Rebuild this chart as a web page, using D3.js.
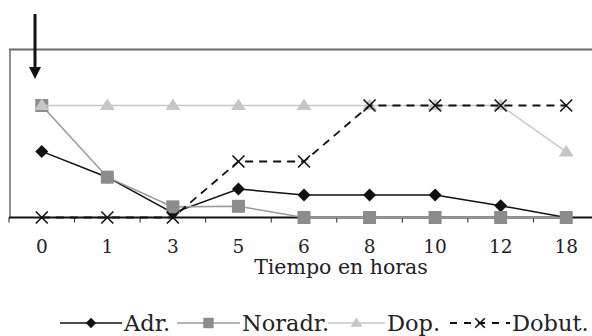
<!DOCTYPE html>
<html><head><meta charset="utf-8">
<script src="https://cdn.jsdelivr.net/npm/d3@7"></script>
<style>body{margin:0;background:#fff}svg{display:block}</style></head>
<body>
<svg id="c" width="592" height="336"></svg>
<script>
const categories = ["0","1","3","5","6","8","10","12","18"];
const adr    = [11.8, 7.2, 0.8, 5.1, 4, 4, 4, 2.1, 0];
const noradr = [20, 7.2, 1.9, 2, 0, 0, 0, 0, 0];
const dop    = [20, 20, 20, 20, 20, 20, 20, 20, 11.7];
const dobut  = [0, 0, 0, 10, 10, 20, 20, 20, 20];
const seriesNames = ["Adr.", "Noradr.", "Dop.", "Dobut."];
const xTitle = "Tiempo en horas";
const yMax = 30;

const svg = d3.select("#c");
const FONT = "DejaVu Serif";
const x = d3.scaleBand().domain(categories).range([9, 599]).paddingInner(0).paddingOuter(0);
const cx = c => x(c) + x.bandwidth() / 2;
const y = d3.scaleLinear().domain([0, yMax]).range([217.5, 49.5]);

// frame (top + left)
svg.append("line").attr("x1", 9).attr("x2", 592).attr("y1", y(yMax)).attr("y2", y(yMax))
  .attr("stroke", "#6b6b6b").attr("stroke-width", 2);
svg.append("line").attr("x1", 10).attr("x2", 10).attr("y1", y(yMax)).attr("y2", y(0))
  .attr("stroke", "#6b6b6b").attr("stroke-width", 1.5);

// x axis
const axisG = svg.append("g").attr("transform", `translate(0,${y(0)})`);
axisG.append("line").attr("x1", 9).attr("x2", 592).attr("stroke", "#111").attr("stroke-width", 2);
axisG.selectAll(".tk").data(categories).enter().append("line")
  .attr("x1", d => x(d)).attr("x2", d => x(d)).attr("y1", 0).attr("y2", 5)
  .attr("stroke", "#222").attr("stroke-width", 1);
svg.selectAll(".tl").data(categories).enter().append("text")
  .attr("x", d => cx(d)).attr("y", 253).attr("text-anchor", "middle")
  .attr("font-family", FONT).attr("font-size", 18.5).attr("fill", "#222").text(d => d);
svg.append("text").attr("x", 341).attr("y", 274)
  .attr("text-anchor", "middle").attr("font-family", FONT).attr("font-size", 20.5)
  .attr("fill", "#222").text(xTitle);

// markers
function marker(g, type, px, py, scale = 1) {
  if (type === "diamond") {
    const s = 6.5 * scale;
    g.append("path").attr("d", `M${px},${py - s}L${px + s},${py}L${px},${py + s}L${px - s},${py}Z`).attr("fill", "#111");
  } else if (type === "square") {
    const s = 6.5 * scale;
    g.append("rect").attr("x", px - s).attr("y", py - s).attr("width", 2 * s).attr("height", 2 * s).attr("fill", "#8c8c8c");
  } else if (type === "triangle") {
    const w = 7.5 * scale, h = 11.5 * scale;
    g.append("path").attr("d", `M${px},${py - h * 0.6}L${px + w},${py + h * 0.4}L${px - w},${py + h * 0.4}Z`).attr("fill", "#c6c6c6");
  } else if (type === "x") {
    const s = 6 * scale;
    g.append("path").attr("d", `M${px - s},${py - s}L${px + s},${py + s}M${px - s},${py + s}L${px + s},${py - s}`)
      .attr("stroke", "#111").attr("stroke-width", 1.6).attr("fill", "none");
  }
}

const series = [
  { name: seriesNames[0], values: adr, color: "#111", width: 1.5, dash: null, mk: "diamond" },
  { name: seriesNames[1], values: noradr, color: "#9a9a9a", width: 1.6, dash: null, mk: "square" },
  { name: seriesNames[2], values: dop, color: "#c8c8c8", width: 1.5, dash: null, mk: "triangle" },
  { name: seriesNames[3], values: dobut, color: "#111", width: 1.8, dash: "8,6", mk: "x" }
];
const line = d3.line().x((d, i) => cx(categories[i])).y(d => y(d));
series.forEach(s => {
  const g = svg.append("g");
  g.append("path").attr("d", line(s.values)).attr("fill", "none").attr("stroke", s.color)
    .attr("stroke-width", s.width).attr("stroke-dasharray", s.dash);
  s.values.forEach((v, i) => marker(g, s.mk, cx(categories[i]), y(v)));
});

// arrow
svg.append("line").attr("x1", 35).attr("x2", 35).attr("y1", 14).attr("y2", 70)
  .attr("stroke", "#111").attr("stroke-width", 3);
svg.append("path").attr("d", "M29,67L41,67L35,79Z").attr("fill", "#111");

// legend
const legX = [[60, 122], [177, 240], [328, 385], [450, 510]];
const ly = 323;
series.forEach((s, i) => {
  const g = svg.append("g");
  const [a, b] = legX[i];
  g.append("line").attr("x1", a).attr("x2", b).attr("y1", ly).attr("y2", ly)
    .attr("stroke", s.color).attr("stroke-width", s.width).attr("stroke-dasharray", s.dash ? "7,7" : null);
  marker(g, s.mk, (a + b) / 2, ly, 0.8);
  g.append("text").attr("x", b + 2).attr("y", 331).attr("font-family", FONT).attr("font-size", 22.5)
    .attr("fill", "#222").text(s.name);
});
</script>
</body></html>
